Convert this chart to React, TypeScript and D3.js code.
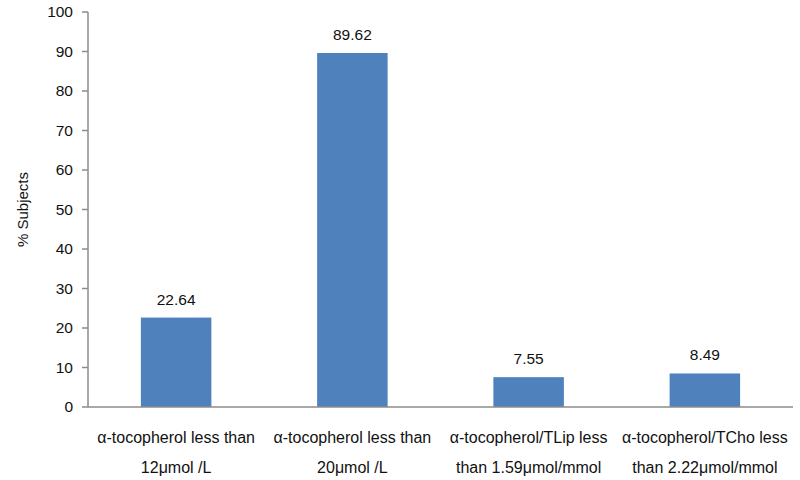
import React from "react";
import * as d3 from "d3";

const categories = [
  ["α-tocopherol less than", "12μmol /L"],
  ["α-tocopherol less than", "20μmol /L"],
  ["α-tocopherol/TLip less", "than 1.59μmol/mmol"],
  ["α-tocopherol/TCho less", "than 2.22μmol/mmol"],
];
const values = [22.64, 89.62, 7.55, 8.49];
const valueLabels = ["22.64", "89.62", "7.55", "8.49"];
const yTicks = [0, 10, 20, 30, 40, 50, 60, 70, 80, 90, 100];
const yTitle = "% Subjects";

const W = 800;
const H = 480;
const margin = { left: 88, right: 7, top: 12, bottom: 73 };

export default function App() {
  const x = d3
    .scaleBand<number>()
    .domain(d3.range(values.length))
    .range([margin.left, W - margin.right])
    .paddingInner(0.6)
    .paddingOuter(0.3);
  const y = d3.scaleLinear().domain([0, 100]).range([H - margin.bottom, margin.top]);
  const font = "'Liberation Sans', Arial, sans-serif";
  const axisColor = "#8c8c8c";
  const y0 = y(0);
  return (
    <svg
      width={W}
      height={H}
      style={{ position: "absolute", left: 0, top: 0, background: "#fff" }}
      fontFamily={font}
    >
      {/* bars */}
      {values.map((v, i) => (
        <rect
          key={i}
          x={x(i)}
          y={y(v)}
          width={x.bandwidth()}
          height={y0 - y(v)}
          fill="#4f81bd"
        />
      ))}
      {/* value labels */}
      {values.map((v, i) => (
        <text
          key={"v" + i}
          x={(x(i) as number) + x.bandwidth() / 2}
          y={y(v) - 13}
          textAnchor="middle"
          fontSize={15.5}
          fill="#111"
        >
          {valueLabels[i]}
        </text>
      ))}
      {/* y axis */}
      <line x1={margin.left} x2={margin.left} y1={y(100)} y2={y0} stroke={axisColor} strokeWidth={1.5} />
      {yTicks.map((t) => (
        <g key={t}>
          <line x1={margin.left - 6} x2={margin.left} y1={y(t)} y2={y(t)} stroke={axisColor} strokeWidth={1.5} />
          <text x={margin.left - 15} y={y(t)} dy="0.35em" textAnchor="end" fontSize={15.5} fill="#111">
            {t}
          </text>
        </g>
      ))}
      {/* x axis */}
      <line x1={margin.left} x2={W - margin.right} y1={y0} y2={y0} stroke={axisColor} strokeWidth={1.5} />
      {categories.map((lines, i) => (
        <text
          key={"c" + i}
          x={(x(i) as number) + x.bandwidth() / 2}
          textAnchor="middle"
          fontSize={16}
          fill="#111"
        >
          {lines.map((l, j) => (
            <tspan key={j} x={(x(i) as number) + x.bandwidth() / 2} y={443 + j * 30}>
              {l}
            </tspan>
          ))}
        </text>
      ))}
      {/* y title */}
      <text
        transform={`translate(28, ${(y(100) + y0) / 2}) rotate(-90)`}
        textAnchor="middle"
        fontSize={15}
        fill="#111"
      >
        {yTitle}
      </text>
    </svg>
  );
}
